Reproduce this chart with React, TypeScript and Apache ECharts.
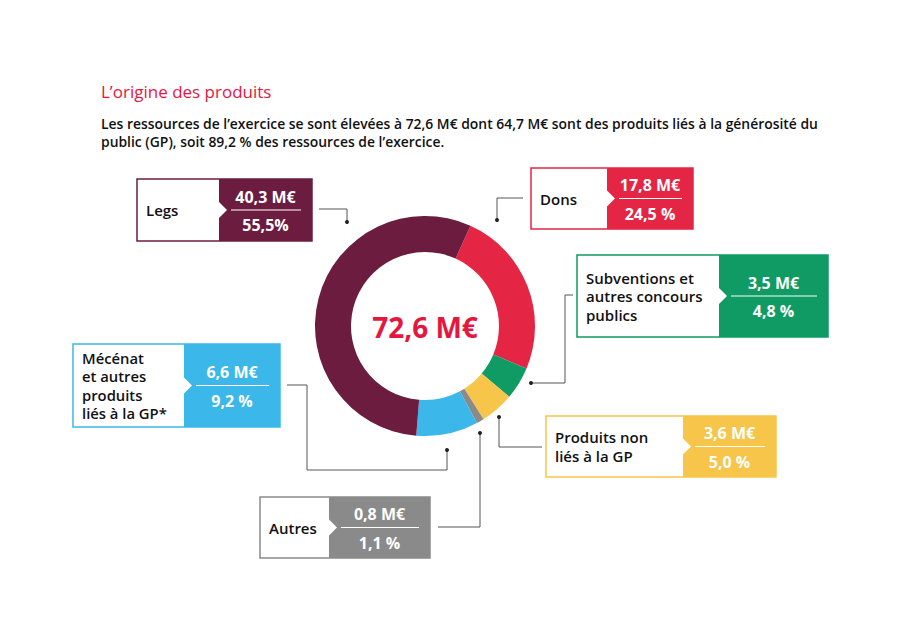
import React, { useEffect, useRef } from "react";
import * as echarts from "echarts";

const categories = [
  "Dons",
  "Subventions et autres concours publics",
  "Produits non liés à la GP",
  "Autres",
  "Mécénat et autres produits liés à la GP*",
  "Legs",
];
const valuesM = [17.8, 3.5, 3.6, 0.8, 6.6, 40.3];
const amountLabels = ["17,8 M€", "3,5 M€", "3,6 M€", "0,8 M€", "6,6 M€", "40,3 M€"];
const percentLabels = ["24,5 %", "4,8 %", "5,0 %", "1,1 %", "9,2 %", "55,5%"];
const boxLabelLines = [
  ["Dons"],
  ["Subventions et", "autres concours", "publics"],
  ["Produits non", "liés à la GP"],
  ["Autres"],
  ["Mécénat", "et autres", "produits", "liés à la GP*"],
  ["Legs"],
];
const totalLabel = "72,6 M€";
const titleText = "L’origine des produits";
const introLines = [
  "Les ressources de l’exercice se sont élevées à 72,6 M€ dont 64,7 M€ sont des produits liés à la générosité du",
  "public (GP), soit 89,2 % des ressources de l’exercice.",
];

const COLORS = ["#e42544", "#0f9b63", "#f7c54a", "#8a8a8a", "#3bb7ea", "#6b1c3f"];
const FONT = "'Open Sans', sans-serif";

// box layout: x, y, w, h, split (start of coloured part), lineHeight, connector points
const LAYOUT = [
  { x: 531, y: 168, w: 162, h: 61, split: 607, lh: 18, fs: 15, conn: [[523, 198], [497, 198], [497, 220]] },
  { x: 577, y: 255, w: 251, h: 82, split: 719, lh: 18.5, fs: 15, conn: [[573, 295], [565, 295], [565, 383], [531, 383]] },
  { x: 546, y: 416, w: 230, h: 61, split: 683, lh: 19, fs: 15, conn: [[542, 447], [499, 447], [499, 417]] },
  { x: 260, y: 497, w: 170, h: 61, split: 329, lh: 18, fs: 15, conn: [[438, 527], [480, 527], [480, 433]] },
  { x: 73, y: 344, w: 207, h: 83, split: 184, lh: 18.5, fs: 14.8, conn: [[287, 385], [307, 385], [307, 470], [447, 470], [447, 450]] },
  { x: 137, y: 179, w: 175, h: 62, split: 219, lh: 18, fs: 15, conn: [[319, 209], [347, 209], [347, 222]] },
];

export default function App() {
  const ref = useRef<HTMLDivElement>(null);
  useEffect(() => {
    document.body.style.margin = "0";
    const chart = echarts.init(ref.current!, null, { renderer: "svg" });

    const graphics: any[] = [];
    graphics.push({
      type: "text",
      x: 101,
      y: 91,
      style: { text: titleText, fill: "#e4173f", font: `500 17px ${FONT}`, verticalAlign: "middle" },
    });
    introLines.forEach((t, i) => {
      graphics.push({
        type: "text",
        x: 101,
        y: 123 + i * 18,
        style: { text: t, fill: "#111", font: `600 13.9px ${FONT}`, verticalAlign: "middle" },
      });
    });
    graphics.push({
      type: "text",
      x: 425,
      y: 327,
      style: { text: totalLabel, fill: "#e4173f", font: `bold 28px ${FONT}`, align: "center", verticalAlign: "middle" },
    });

    LAYOUT.forEach((b, i) => {
      const c = COLORS[i];
      const cy = b.y + b.h / 2;
      const right = b.x + b.w;
      const vx = (b.split + right) / 2;
      graphics.push({
        type: "rect",
        shape: { x: b.x, y: b.y, width: b.w, height: b.h },
        style: { fill: "#fff", stroke: c, lineWidth: 1.5 },
      });
      graphics.push({
        type: "rect",
        shape: { x: b.split, y: b.y, width: right - b.split, height: b.h },
        style: { fill: c },
      });
      graphics.push({
        type: "polygon",
        shape: { points: [[b.split - 1, cy - 9], [b.split + 8, cy], [b.split - 1, cy + 9]] },
        style: { fill: "#fff" },
      });
      graphics.push({
        type: "text",
        x: b.x + 9,
        y: cy,
        style: {
          text: boxLabelLines[i].join("\n"),
          fill: "#111",
          font: `600 ${b.fs}px ${FONT}`,
          lineHeight: b.lh,
          verticalAlign: "middle",
        },
      });
      graphics.push({
        type: "text",
        x: vx,
        y: cy - 13.5,
        style: { text: amountLabels[i], fill: "#fff", font: `bold 16px ${FONT}`, align: "center", verticalAlign: "middle" },
      });
      graphics.push({
        type: "text",
        x: vx,
        y: cy + 15,
        style: { text: percentLabels[i], fill: "#fff", font: `bold 16px ${FONT}`, align: "center", verticalAlign: "middle" },
      });
      graphics.push({
        type: "line",
        shape: { x1: b.split + 12, y1: cy, x2: right - 11, y2: cy },
        style: { stroke: "#fff", lineWidth: 1 },
      });
      graphics.push({
        type: "polyline",
        shape: { points: b.conn },
        style: { stroke: "#555", lineWidth: 1, fill: null },
      });
      const end = b.conn[b.conn.length - 1];
      graphics.push({
        type: "circle",
        shape: { cx: end[0], cy: end[1], r: 2 },
        style: { fill: "#222" },
      });
    });

    chart.setOption({
      animation: false,
      backgroundColor: "#fff",
      series: [
        {
          type: "pie",
          radius: [74, 110],
          center: [425, 326],
          startAngle: 65.6,
          clockwise: true,
          label: { show: false },
          labelLine: { show: false },
          emphasis: { disabled: true },
          silent: true,
          itemStyle: { borderWidth: 0 },
          data: categories.map((name, i) => ({
            name,
            value: valuesM[i],
            itemStyle: { color: COLORS[i] },
          })),
        },
      ],
      graphic: graphics,
    });
    return () => chart.dispose();
  }, []);
  return <div ref={ref} style={{ width: 900, height: 634 }} />;
}
